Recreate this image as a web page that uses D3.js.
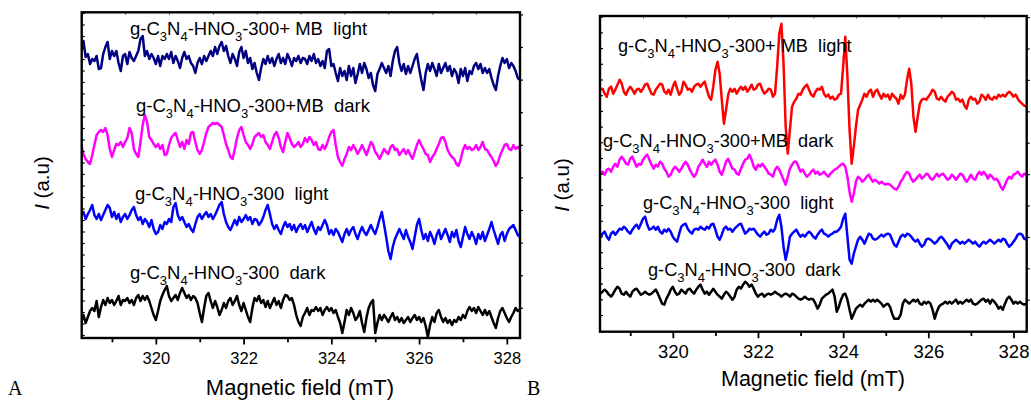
<!DOCTYPE html>
<html><head><meta charset="utf-8">
<script src="https://cdn.jsdelivr.net/npm/d3@7/dist/d3.min.js"></script>
<style>
body{margin:0;background:#fff}
svg{display:block}
text{font-family:"Liberation Sans",Arial,sans-serif;fill:#000}
</style>
</head><body>
<svg id="c" width="1031" height="400"></svg>
<script>
// ---- data ----
const fieldStart = 318.3, fieldStep = 0.05;
const majorTicks = [320, 322, 324, 326, 328];
const minorTicks = [319, 321, 323, 325, 327];
const topTicks = [319.3, 320.3, 321.3, 322.3, 323.3, 324.3, 325.3, 326.3, 327.3];

const labelsA = ["g-C3N4-HNO3-300+ MB  light", "g-C3N4-HNO3-300+MB  dark", "g-C3N4-HNO3-300  light", "g-C3N4-HNO3-300  dark"];
const labelsB = ["g-C3N4-HNO3-300+ MB  light", "g-C3N4-HNO3-300+MB  dark", "g-C3N4-HNO3-300  light", "g-C3N4-HNO3-300  dark"];

// Panel A (intensity, a.u.)
const aMBlight = [287,297,281,284,274,279,277,282,269,270, 284,291,296,279,287,282,287,275,267,282,
 284,274,286,280,277,282,287,299,302,282, 287,279,284,280,274,282,272,282,279,284,
 279,286,275,282,277,270,280,286,279,282, 275,272,265,275,280,274,282,277,282,287,
 282,291,284,292,296,287,292,282,275,284, 279,272,286,291,280,287,275,280,269,275,
 265,258,270,279,274,282,275,280,272,279, 284,275,280,274,284,279,272,280,277,282,
 275,280,279,274,282,277,284,275,279,272, 277,270,287,289,272,274,265,257,270,262,
 267,258,272,262,270,255,264,274,265,275, 269,260,265,253,247,264,269,275,270,265,
 272,262,277,287,291,275,267,274,264,272, 265,272,279,284,270,258,248,265,274,267,
 275,269,262,274,265,270,275,267,272,262, 269,265,255,269,262,270,257,267,264,272,
 275,269,274,265,270,265,269,260,253,248, 262,272,280,275,279,270,275,272,267,260, 258];
const aMBdark = [193,184,179,176,174,183,193,203,206,208, 206,210,203,189,181,188,194,193,196,191,
 196,200,210,205,189,184,181,196,213,223, 216,201,198,194,191,194,189,193,183,184,
 193,200,203,205,198,191,196,189,198,194, 205,206,196,188,184,188,196,205,211,213,
 215,214,215,213,211,203,194,188,181,179, 189,200,208,211,203,196,193,189,194,201,
 203,205,201,203,196,193,189,196,203,206, 200,191,186,196,205,200,194,191,193,196,
 191,194,200,196,201,198,193,196,189,188, 193,189,194,201,206,208,193,181,176,172,
 179,184,191,188,193,189,184,188,193,188, 183,189,196,193,186,183,179,184,189,186,
 184,191,193,188,189,183,186,189,184,188, 183,179,186,193,198,193,189,184,183,176,
 181,184,189,194,200,201,196,188,184,181, 179,174,172,179,188,193,189,191,188,189,
 193,188,191,196,189,188,184,181,177,172, 176,183,188,193,194,189,188,193,189,191, 189];
const aLight = [123,126,119,124,128,133,123,119,124,118, 123,128,133,130,121,126,119,124,116,121,
 124,119,123,128,131,123,118,121,114,119, 116,111,118,109,104,106,113,109,116,114,
 119,116,131,135,123,118,121,116,111,114, 109,106,114,121,124,119,123,126,121,124,
 119,123,128,133,136,124,116,111,108,113, 118,113,121,116,119,123,118,121,114,119,
 118,113,116,121,128,133,124,114,109,113, 108,104,111,116,111,114,108,113,106,111,
 114,109,113,106,111,116,109,104,111,108, 113,118,113,104,108,103,109,106,101,96,
 104,109,103,108,111,104,99,106,111,106, 103,108,113,108,104,111,119,126,114,101,
 87,79,91,99,104,109,104,99,108,101, 96,89,101,113,119,108,99,104,97,106,
 101,94,103,108,99,104,109,103,96,106, 101,108,97,91,101,111,104,99,106,101,
 94,104,99,106,97,103,109,116,108,101, 94,103,106,97,104,109,111,113,108,103, 101];
const aDark = [16,23,15,21,27,30,27,37,21,31, 38,33,40,35,38,33,37,42,33,38,
 37,40,35,38,33,40,43,37,42,38, 42,37,30,23,18,27,37,43,48,52,
 42,37,40,43,38,45,50,45,40,43, 38,42,40,35,25,16,30,42,45,37,
 30,37,31,23,28,35,30,37,40,33, 37,42,33,27,35,28,21,16,30,40,
 37,42,35,38,31,37,30,35,40,33, 37,30,38,43,42,38,40,33,23,16,
 12,21,25,30,23,28,27,31,27,30, 23,28,31,27,30,25,28,21,15,5,
 16,28,23,30,25,18,21,27,15,6, 20,30,35,38,5,15,23,18,23,20,
 16,21,25,18,21,16,20,15,18,21, 16,20,23,18,21,16,20,12,1,13,
 21,16,25,28,21,16,20,15,18,13, 18,16,21,18,23,20,27,31,27,30,
 25,31,27,23,28,23,27,21,15,10, 20,27,30,25,20,16,21,25,30,27, 28];

// Panel B (intensity, a.u.)
const bMBlight = [242,243,238,235,243,245,238,242,247,252, 248,240,237,242,245,242,238,242,243,240,
 243,247,248,243,238,237,242,245,248,247, 240,238,242,237,245,250,243,237,240,250,
 247,242,243,240,245,247,248,245,248,250, 242,235,232,245,262,270,258,232,208,222,
 237,243,240,243,238,242,245,242,245,240, 243,247,242,243,247,248,242,238,240,243,
 242,235,238,265,298,308,268,205,178,202, 225,230,233,238,237,242,245,247,242,237,
 235,240,243,242,245,238,235,237,233,235, 232,233,237,238,265,295,255,202,168,185,
 205,222,227,232,238,235,240,242,235,240, 242,237,233,238,235,237,232,238,235,233,
 228,237,233,237,252,263,248,215,200,215, 228,232,233,232,235,238,242,240,233,232,
 235,232,230,235,237,240,238,232,233,230, 232,226,223,232,235,232,233,228,230,237,
 235,232,237,233,232,235,233,237,235,237, 235,238,240,238,235,237,233,230,228,226, 225];
const bMBdark = [158,160,157,162,163,160,165,168,165,172, 175,172,168,167,173,175,170,165,168,167,
 172,175,177,172,167,163,167,165,170,168, 163,160,155,157,162,165,163,160,163,167,
 170,167,162,158,155,158,165,168,172,168, 165,170,167,170,172,167,160,157,163,170,
 173,168,163,162,158,157,163,168,172,173, 177,172,165,162,167,165,168,165,162,158,
 157,155,162,165,162,157,152,147,155,163, 167,170,170,165,160,162,158,155,157,160,
 162,158,160,157,158,160,157,155,158,160, 162,163,165,167,168,165,155,140,130,138,
 150,155,153,150,152,155,157,153,150,152, 150,148,150,148,147,148,147,145,143,142,
 145,150,153,157,160,158,153,150,152,155, 157,153,155,158,157,153,152,155,158,155,
 157,158,155,152,153,157,155,152,155,158, 157,153,150,153,157,153,152,157,160,157,
 160,157,153,157,155,152,153,150,145,142, 147,152,155,153,157,158,160,157,155,158, 157];
const bLight = [95,98,100,95,92,98,100,97,100,103, 102,105,103,100,98,102,105,107,103,108,
 113,115,107,102,103,105,102,105,100,98, 102,100,103,100,95,92,90,98,105,107,
 108,103,100,98,102,103,102,105,103,102, 105,103,107,108,102,95,92,97,103,105,
 102,103,100,103,105,107,108,103,98,100, 103,102,103,100,97,95,98,100,97,98,
 102,100,103,112,117,105,85,72,82,95, 98,100,102,98,95,97,95,98,100,98,
 95,93,97,100,102,98,97,95,97,98, 100,100,102,105,113,118,95,72,68,78,
 85,92,95,92,88,93,98,97,93,92, 93,95,97,95,97,98,97,92,87,85,
 90,95,97,95,98,97,95,92,90,92, 88,85,87,92,93,92,90,88,90,93,
 95,93,90,87,83,88,90,92,90,88, 90,88,90,92,90,88,90,87,85,88,
 90,88,90,92,90,88,90,92,90,93, 92,88,85,87,90,93,97,98,97,93, 92];
const bDark = [38,40,42,40,37,35,38,42,45,43, 38,37,40,37,35,40,42,43,40,37,
 38,40,38,37,38,40,42,38,33,28, 27,33,37,42,45,40,37,38,42,40,
 38,42,43,40,38,42,45,47,42,38, 40,37,40,43,40,37,35,33,37,40,
 38,35,32,35,42,45,43,47,50,48, 45,47,43,38,35,37,38,35,37,38,
 37,38,40,38,37,35,37,38,37,35, 38,37,35,33,32,33,35,33,32,33,
 32,28,23,27,33,35,37,38,40,42, 35,20,25,32,37,38,32,22,13,18,
 23,25,27,25,28,30,32,30,32,30, 32,30,28,25,27,28,25,18,13,13,
 13,17,28,32,30,28,30,32,30,32, 28,27,30,28,30,28,22,13,20,25,
 27,28,30,28,30,28,30,32,28,30, 28,30,32,30,32,28,27,28,30,32,
 33,30,32,28,32,30,27,23,25,22, 28,33,35,32,28,30,28,30,28,27, 28];

const colorsA = ["#000080", "#ff00ff", "#0000ff", "#000000"];
const colorsB = ["#ff0000", "#ff00ff", "#0000ff", "#000000"];

// ---- layout ----
const panels = [
  { left: 81.7, right: 520, top: 12.3, bottom: 338, xDom: [318.31, 328.30], yMax: 325.7,
    series: [aMBlight, aMBdark, aLight, aDark], colors: colorsA, labels: labelsA,
    labelPos: [[130, 35], [136, 111.5], [135, 200], [130, 279.4]], labelSize: 18.5, subSize: 13, subDy: 6,
    tickFont: 16.5, tickPad: 8, titleX: 300, titleY: 395, titleSize: 22,
    yTitleX: 49, yTitleY: 183, letter: "A", letterX: 8, letterY: 395, letterSize: 20,
    leftTickStart: 3, leftTickStep: 11.5, rightTickStart: 30.2, rightTickStep: 32.6 },
  { left: 600, right: 1026.7, top: 16, bottom: 331.7, xDom: [318.29, 328.31], yMax: 315.7,
    series: [bMBlight, bMBdark, bLight, bDark], colors: colorsB, labels: labelsB,
    labelPos: [[618, 51.7], [603, 146.7], [643, 209.3], [648, 276]], labelSize: 18.2, subSize: 13, subDy: 6,
    tickFont: 18.5, tickPad: 7, titleX: 813, titleY: 386, titleSize: 21.5,
    yTitleX: 569, yTitleY: 185, letter: "B", letterX: 527, letterY: 395, letterSize: 20,
    leftTickStart: 16.7, leftTickStep: 15.7, rightTickStart: 32, rightTickStep: 31.4 }
];

const svg = d3.select("#c");

function addLabel(g, str, x, y, size, subSize, subDy) {
  const t = g.append("text").attr("x", x).attr("y", y)
    .style("font-size", size + "px").style("white-space", "pre");
  const parts = str.split(/(?<=[CNO])(\d)/);
  let shifted = false;
  parts.forEach((p, i) => {
    if (p === "") return;
    const sp = t.append("tspan").text(p);
    if (i % 2 === 1) {
      sp.attr("dy", subDy).style("font-size", subSize + "px");
      shifted = true;
    } else if (shifted) {
      sp.attr("dy", -subDy);
      shifted = false;
    }
  });
}

panels.forEach(P => {
  const g = svg.append("g");
  const x = d3.scaleLinear().domain(P.xDom).range([P.left, P.right]);
  const y = d3.scaleLinear().domain([0, P.yMax]).range([P.bottom, P.top]);

  const clipId = "clip" + P.letter;
  svg.append("clipPath").attr("id", clipId).append("rect")
    .attr("x", P.left).attr("y", P.top - 6).attr("width", P.right - P.left).attr("height", P.bottom - P.top + 6);

  const line = d3.line().x((d, i) => x(fieldStart + i * fieldStep)).y(d => y(d)).curve(d3.curveLinear);
  P.series.forEach((s, k) => {
    g.append("path").datum(s).attr("d", line)
      .attr("fill", "none").attr("stroke", P.colors[k]).attr("stroke-width", 2.5)
      .attr("stroke-linejoin", "round").attr("clip-path", `url(#${clipId})`);
  });

  // bottom axis (major + minor)
  const axB = g.append("g").attr("transform", `translate(0,${P.bottom})`)
    .call(d3.axisBottom(x).tickValues(majorTicks).tickSize(6.5).tickPadding(P.tickPad).tickFormat(d3.format("d")));
  axB.select(".domain").remove();
  axB.selectAll("line").attr("stroke", "#000").attr("stroke-width", 1.8);
  axB.selectAll("text").attr("font-family", null).attr("font-size", null)
    .style("font-size", P.tickFont + "px").style("font-family", '"Liberation Sans",Arial,sans-serif');
  const axBm = g.append("g").attr("transform", `translate(0,${P.bottom})`)
    .call(d3.axisBottom(x).tickValues(minorTicks).tickSize(4.3).tickFormat(""));
  axBm.select(".domain").remove();
  axBm.selectAll("line").attr("stroke", "#000").attr("stroke-width", 1.8);

  // top axis small inward ticks
  const axT = g.append("g").attr("transform", `translate(0,${P.top})`)
    .call(d3.axisTop(x).tickValues(topTicks).tickSize(-2.5).tickFormat(""));
  axT.select(".domain").remove();
  axT.selectAll("line").attr("stroke", "#555").attr("stroke-width", 1);

  // left inward ticks, right outward ticks
  const leftVals = d3.range(P.leftTickStart, P.yMax, P.leftTickStep);
  const axL = g.append("g").attr("transform", `translate(${P.left},0)`)
    .call(d3.axisLeft(y).tickValues(leftVals).tickSize(-3).tickFormat(""));
  axL.select(".domain").remove();
  axL.selectAll("line").attr("stroke", "#000").attr("stroke-width", 1.2);
  const rightVals = d3.range(P.rightTickStart, P.yMax, P.rightTickStep);
  const axR = g.append("g").attr("transform", `translate(${P.right},0)`)
    .call(d3.axisRight(y).tickValues(rightVals).tickSize(3).tickFormat(""));
  axR.select(".domain").remove();
  axR.selectAll("line").attr("stroke", "#000").attr("stroke-width", 1.2);

  // frame
  g.append("rect").attr("x", P.left).attr("y", P.top)
    .attr("width", P.right - P.left).attr("height", P.bottom - P.top)
    .attr("fill", "none").attr("stroke", "#000").attr("stroke-width", 2.4);

  // series labels
  P.labels.forEach((lab, k) => addLabel(g, lab, P.labelPos[k][0], P.labelPos[k][1], P.labelSize, P.subSize, P.subDy));

  // axis titles
  g.append("text").attr("x", P.titleX).attr("y", P.titleY).attr("text-anchor", "middle")
    .style("font-size", P.titleSize + "px").text("Magnetic field (mT)");
  const yt = g.append("text").attr("transform", `translate(${P.yTitleX},${P.yTitleY}) rotate(-90)`)
    .attr("text-anchor", "middle").style("font-size", "20.5px");
  yt.append("tspan").style("font-style", "italic").text("I");
  yt.append("tspan").text(" (a.u)");

  // panel letter
  g.append("text").attr("x", P.letterX).attr("y", P.letterY)
    .style("font-family", '"Liberation Serif","Times New Roman",serif')
    .style("font-size", P.letterSize + "px").text(P.letter);
});
</script>
</body></html>
